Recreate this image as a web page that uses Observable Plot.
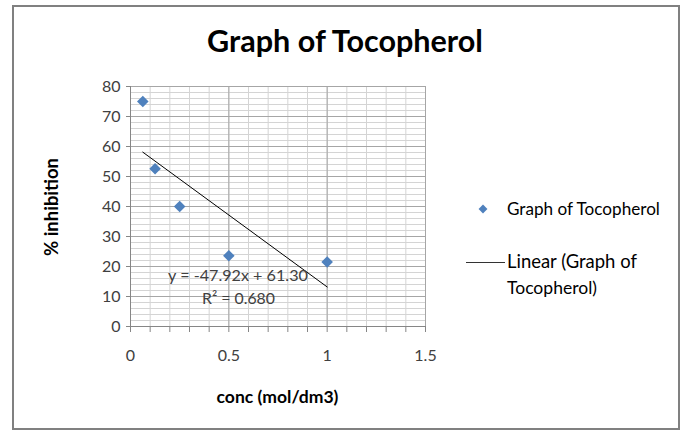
<!DOCTYPE html>
<html><head><meta charset="utf-8">
<script src="https://cdn.jsdelivr.net/npm/d3@7"></script>
<script src="https://cdn.jsdelivr.net/npm/@observablehq/plot@0.6"></script>
<style>
body{margin:0;background:#fff}
svg{display:block}
</style>
</head><body><div id="chart"></div>
<script>
// ---- data ----
const conc = [0.0625, 0.125, 0.25, 0.5, 1];
const inhibition = [75.0, 52.6, 40.0, 23.6, 21.5];
const xTicks = [0, 0.5, 1, 1.5];
const yTicks = [0, 10, 20, 30, 40, 50, 60, 70, 80];
const xMinorStep = 0.1;
const yMinorStep = 2;
const title = "Graph of Tocopherol";
const xLabel = "conc (mol/dm3)";
const yLabel = "% inhibition";
const seriesName = "Graph of Tocopherol";
const trendName = ["Linear (Graph of", "Tocopherol)"];
const equation = ["y = -47.92x + 61.30", "R² = 0.680"];

const data = conc.map((x, i) => ({x, y: inhibition[i]}));
const xMinor = d3.range(0, 1.5 + 1e-9, xMinorStep).map(v => +v.toFixed(2));
const yMinor = d3.range(0, 80 + 1e-9, yMinorStep);

const FONT = "Lato, 'Open Sans', sans-serif";
const W = 683, H = 435;
const mL = 130, mR = 258, mT = 86, mB = 109;

const chart = Plot.plot({
  width: W, height: H,
  marginLeft: mL, marginRight: mR, marginTop: mT, marginBottom: mB,
  style: {fontFamily: FONT, fontSize: "16px", color: "#404040", background: "#fff"},
  x: {type: "linear", domain: [0, 1.5]},
  y: {type: "linear", domain: [0, 80]},
  marks: [
    Plot.ruleX(xMinor, {stroke: "#d4d4d4", strokeWidth: 1}),
    Plot.ruleY(yMinor, {stroke: "#d4d4d4", strokeWidth: 1}),
    Plot.ruleX(xTicks, {stroke: "#a6a6a6", strokeWidth: 1}),
    Plot.ruleY(yTicks, {stroke: "#a6a6a6", strokeWidth: 1}),
    Plot.axisX({ticks: xMinor, tickSize: 6, tickFormat: () => "", stroke: "#868686", label: null}),
    Plot.axisX({ticks: xTicks, tickSize: 0, tickPadding: 23, tickFormat: d => String(d), fill: "#404040", fontSize: 16, label: null}),
    Plot.axisY({ticks: yTicks, tickSize: 4, tickPadding: 6, stroke: "#868686", tickFormat: d => String(d), fill: "#404040", fontSize: 16, label: null}),
    Plot.ruleX([0], {stroke: "#868686"}),
    Plot.ruleY([0], {stroke: "#868686", x1: -0.012, x2: 1.5}),
    Plot.linearRegressionY(data, {x: "x", y: "y", ci: 0, stroke: "#000", strokeWidth: 1}),
    Plot.dot(data, {x: "x", y: "y", symbol: "diamond2", r: 5.2, fill: "#4F81BD", stroke: "none"})
  ]
});
document.getElementById("chart").appendChild(chart);

// annotations (text sized to fit the reference widths)
const svg = d3.select(chart);
const txt = (x, y, s, width, opts = {}) => {
  const t = svg.append("text").attr("x", x).attr("y", y)
    .attr("text-anchor", opts.anchor || "start").attr("font-family", FONT)
    .attr("font-weight", opts.bold ? "bold" : "normal").attr("font-size", 20)
    .attr("fill", opts.fill || "#000").text(s);
  const w = t.node().getComputedTextLength();
  if (w > 0) t.attr("font-size", (20 * width / w).toFixed(2));
  return t;
};
svg.append("rect").attr("x", 13).attr("y", 6).attr("width", 666).attr("height", 423)
  .attr("fill", "none").attr("stroke", "#808080").attr("stroke-width", 2);
txt(345, 52, title, 276, {anchor: "middle", bold: true});
txt(0, 0, yLabel, 98, {anchor: "middle", bold: true}).attr("transform", "translate(58,207) rotate(-90)");
txt(277.5, 403, xLabel, 122, {anchor: "middle", bold: true});
txt(238, 281, equation[0], 140, {anchor: "middle", fill: "#404040"});
txt(238.5, 304, equation[1], 73, {anchor: "middle", fill: "#404040"});
// legend
svg.append("path").attr("d", d3.symbol(d3.symbolDiamond2, 50)()).attr("transform", "translate(483,209)").attr("fill", "#4F81BD");
txt(507, 215, seriesName, 153);
svg.append("line").attr("x1", 466).attr("x2", 505).attr("y1", 262.5).attr("y2", 262.5).attr("stroke", "#333").attr("stroke-width", 1);
txt(507, 268, trendName[0], 130);
txt(507, 294, trendName[1], 90);
</script>
</body></html>
